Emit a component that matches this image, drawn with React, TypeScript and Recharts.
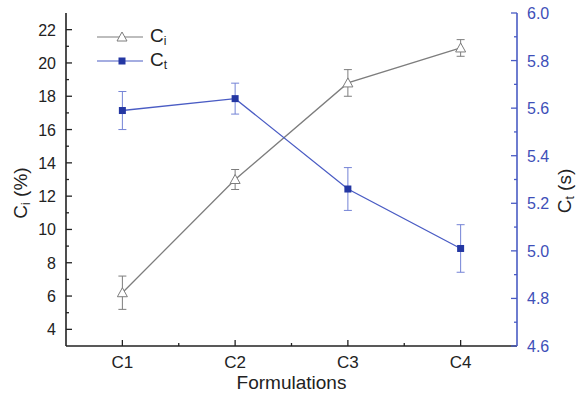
import React from 'react';
import {
  ComposedChart,
  Line,
  XAxis,
  YAxis,
  ErrorBar,
  Label,
} from 'recharts';

const categories = ['C1', 'C2', 'C3', 'C4'];
const ciValues = [6.2, 13.0, 18.8, 20.9];
const ciErrors = [1.0, 0.6, 0.8, 0.5];
const ctValues = [5.59, 5.64, 5.26, 5.01];
const ctErrors = [0.08, 0.065, 0.09, 0.1];

const xTicks = [1, 1.5, 2, 2.5, 3, 3.5, 4];
const leftTicks = [4, 5, 6, 7, 8, 9, 10, 11, 12, 13, 14, 15, 16, 17, 18, 19, 20, 21, 22];
const rightTicks = [4.6, 4.7, 4.8, 4.9, 5.0, 5.1, 5.2, 5.3, 5.4, 5.5, 5.6, 5.7, 5.8, 5.9, 6.0];

const data = categories.map((name, i) => ({
  x: i + 1,
  name,
  ci: ciValues[i],
  ciErr: ciErrors[i],
  ct: ctValues[i],
  ctErr: ctErrors[i],
}));

const FONT = '"Liberation Sans", Arial, sans-serif';
const BLACK = '#222';
const GRAY = '#7d7d7d';
const BLUE = '#4a5cc4';
const BLUE_DARK = '#2437a3';
const BLUE_TEXT = '#3e4fb8';

const XTick = (props: any) => {
  const { x, y, payload } = props;
  const major = Number.isInteger(payload.value);
  return (
    <g>
      <line x1={x} x2={x} y1={y} y2={y - (major ? 6 : 3)} stroke={BLACK} strokeWidth={1.3} />
      {major && (
        <text x={x} y={y + 22} textAnchor="middle" fontSize={17} fill={BLACK} fontFamily={FONT}>
          {categories[payload.value - 1]}
        </text>
      )}
    </g>
  );
};

const LeftTick = (props: any) => {
  const { x, y, payload } = props;
  const major = payload.value % 2 === 0;
  return (
    <g>
      <line x1={x} x2={x + (major ? 6 : 3)} y1={y} y2={y} stroke={BLACK} strokeWidth={1.3} />
      {major && (
        <text x={x - 10} y={y + 6} textAnchor="end" fontSize={16} fill={BLACK} fontFamily={FONT}>
          {payload.value}
        </text>
      )}
    </g>
  );
};

const RightTick = (props: any) => {
  const { x, y, payload } = props;
  const major = Math.round(payload.value * 10) % 2 === 0;
  return (
    <g>
      <line x1={x} x2={x - (major ? 6 : 3)} y1={y} y2={y} stroke={BLUE} strokeWidth={1.3} />
      {major && (
        <text x={x + 10} y={y + 6} textAnchor="start" fontSize={16} fill={BLUE_TEXT} fontFamily={FONT}>
          {payload.value.toFixed(1)}
        </text>
      )}
    </g>
  );
};

const TriangleDot = (props: any) => {
  const { cx, cy, index } = props;
  if (cx == null || cy == null) return null;
  return (
    <path
      key={`tri-${index}`}
      d={`M${cx},${cy - 5} L${cx + 5},${cy + 4} L${cx - 5},${cy + 4} Z`}
      fill="#fff"
      stroke={GRAY}
      strokeWidth={1}
    />
  );
};

const SquareDot = (props: any) => {
  const { cx, cy, index } = props;
  if (cx == null || cy == null) return null;
  return <rect key={`sq-${index}`} x={cx - 3.5} y={cy - 3.5} width={7} height={7} fill={BLUE_DARK} />;
};

export default function App() {
  return (
    <div style={{ position: 'absolute', left: 0, top: 0, width: 578, height: 399, background: '#fff' }}>
      <ComposedChart
        width={578}
        height={399}
        data={data}
        margin={{ top: 13, right: 0, left: 0, bottom: 0 }}
      >
        <XAxis
          dataKey="x"
          type="number"
          domain={[0.5, 4.5]}
          ticks={xTicks}
          interval={0}
          height={53}
          tickSize={0}
          tickMargin={0}
          tickLine={false}
          tick={<XTick />}
          axisLine={{ stroke: BLACK, strokeWidth: 1.6 }}
        >
          <Label
            content={(p: any) => {
              const vb = p.viewBox;
              return (
                <text x={vb.x + vb.width / 2} y={vb.y + 43} textAnchor="middle" fontSize={19} fill={BLACK} fontFamily={FONT}>
                  Formulations
                </text>
              );
            }}
          />
        </XAxis>
        <XAxis
          xAxisId="top"
          orientation="top"
          type="number"
          domain={[0.5, 4.5]}
          height={0}
          tick={false}
          tickLine={false}
          axisLine={{ stroke: BLACK, strokeWidth: 1.6 }}
        />
        <YAxis
          yAxisId="left"
          domain={[3, 23]}
          ticks={leftTicks}
          interval={0}
          width={66}
          tickSize={0}
          tickMargin={0}
          tickLine={false}
          tick={<LeftTick />}
          axisLine={{ stroke: BLACK, strokeWidth: 1.6 }}
        >
          <Label
            content={(p: any) => {
              const vb = p.viewBox;
              const cx = vb.x + 27;
              const cy = 193;
              return (
                <text x={cx} y={cy} transform={`rotate(-90 ${cx} ${cy})`} textAnchor="middle" fontSize={19} fill={BLACK} fontFamily={FONT}>
                  C<tspan fontSize={12} dy={3}>i</tspan>
                  <tspan dy={-3}> (%)</tspan>
                </text>
              );
            }}
          />
        </YAxis>
        <YAxis
          yAxisId="right"
          orientation="right"
          domain={[4.6, 6.0]}
          ticks={rightTicks}
          interval={0}
          width={61}
          tickSize={0}
          tickMargin={0}
          tickLine={false}
          tick={<RightTick />}
          axisLine={{ stroke: BLUE, strokeWidth: 1.6 }}
        >
          <Label
            content={(p: any) => {
              const vb = p.viewBox;
              const cx = vb.x + 54;
              const cy = 191;
              return (
                <text x={cx} y={cy} transform={`rotate(-90 ${cx} ${cy})`} textAnchor="middle" fontSize={19} fill={BLACK} fontFamily={FONT}>
                  C<tspan fontSize={12} dy={3}>t</tspan>
                  <tspan dy={-3}> (s)</tspan>
                </text>
              );
            }}
          />
        </YAxis>
        <Line
          yAxisId="left"
          dataKey="ci"
          type="linear"
          stroke={GRAY}
          strokeWidth={1.3}
          dot={<TriangleDot />}
          activeDot={false}
          isAnimationActive={false}
        >
          <ErrorBar dataKey="ciErr" direction="y" width={4} stroke={GRAY} strokeWidth={1} isAnimationActive={false} />
        </Line>
        <Line
          yAxisId="right"
          dataKey="ct"
          type="linear"
          stroke={BLUE}
          strokeWidth={1.3}
          dot={<SquareDot />}
          activeDot={false}
          isAnimationActive={false}
        >
          <ErrorBar dataKey="ctErr" direction="y" width={4} stroke="#7483d6" strokeWidth={1} isAnimationActive={false} />
        </Line>
      </ComposedChart>
      <div style={{ position: 'absolute', left: 95, top: 25, fontFamily: FONT, fontSize: 19, color: BLACK, lineHeight: '24px' }}>
        <div style={{ display: 'flex', alignItems: 'center', height: 24 }}>
          <svg width={50} height={14}>
            <line x1={2} x2={48} y1={7} y2={7} stroke={GRAY} strokeWidth={1.2} />
            <path d="M27,2 L32,11 L22,11 Z" fill="#fff" stroke={GRAY} strokeWidth={1} />
          </svg>
          <span style={{ marginLeft: 5 }}>
            C<span style={{ fontSize: 12, position: 'relative', top: 3 }}>i</span>
          </span>
        </div>
        <div style={{ display: 'flex', alignItems: 'center', height: 24 }}>
          <svg width={50} height={14}>
            <line x1={2} x2={48} y1={7} y2={7} stroke={BLUE} strokeWidth={1.2} />
            <rect x={23.5} y={3.5} width={7} height={7} fill={BLUE_DARK} />
          </svg>
          <span style={{ marginLeft: 5 }}>
            C<span style={{ fontSize: 12, position: 'relative', top: 3 }}>t</span>
          </span>
        </div>
      </div>
    </div>
  );
}
